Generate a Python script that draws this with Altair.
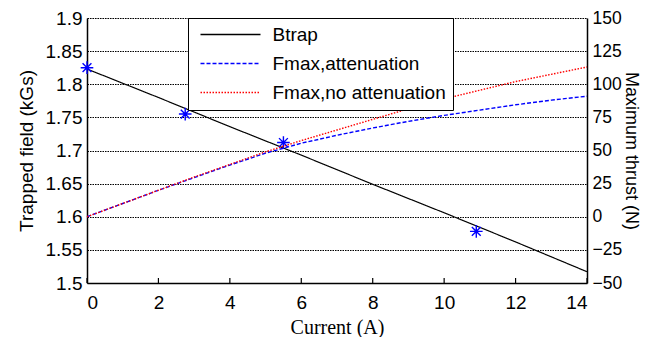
import altair as alt
import pandas as pd

# ---- data ----
current = [0, 1, 2, 3, 4, 5, 6, 7, 8, 9, 10, 11, 12, 13, 14]
fmax_att = [0, 10, 20, 29.5, 39, 48, 55.5, 61.5, 67, 72, 76.5, 80.5, 84.5, 88, 91]
fmax_noatt = [0, 10, 20, 30, 39.5, 49, 57.5, 65.5, 73.5, 81.5, 89, 95.5, 102, 107.5, 113]

btrap_x = [0, 2, 4, 6, 8, 10, 12, 14]
btrap_y = [1.823, 1.780, 1.736, 1.693, 1.649, 1.606, 1.562, 1.517]

meas_x = [0, 2.75, 5.5, 10.9]
meas_y = [1.825, 1.755, 1.712, 1.578]

series_names = ["Btrap", "Fmax,attenuation", "Fmax,no attenuation"]
series_colors = ["black", "blue", "red"]
series_dash = [[1, 0], [4, 2], [1.5, 1.5]]

x_ticks = [0, 2, 4, 6, 8, 10, 12, 14]
left_ticks = [1.5, 1.55, 1.6, 1.65, 1.7, 1.75, 1.8, 1.85, 1.9]
right_ticks = [-50, -25, 0, 25, 50, 75, 100, 125, 150]

# ---- tables ----
btrap_df = pd.DataFrame({"I": btrap_x, "B": btrap_y, "series": series_names[0]})
meas_df = pd.DataFrame({"I": meas_x, "B": meas_y})
fmax_df = pd.concat([
    pd.DataFrame({"I": current, "F": fmax_att, "series": series_names[1]}),
    pd.DataFrame({"I": current, "F": fmax_noatt, "series": series_names[2]}),
])
xt_df = pd.DataFrame({"I": x_ticks})

sans = "Liberation Sans"
serif = "Liberation Serif"
W, H = 500, 265

xscale = alt.Scale(domain=[0, 14], nice=False, zero=False)
xaxis = alt.Axis(values=x_ticks, title="Current (A)", titleFont=serif, titleFontSize=20,
                 titleFontWeight="normal", labelFont=sans, labelFontSize=19,
                 ticks=False, labelPadding=10, titlePadding=5, grid=False, labelOverlap=False,
                 domainColor="black", domainWidth=1.5, labelColor="black", titleColor="black")
X = alt.X("I:Q", scale=xscale, axis=xaxis)

legend = alt.Legend(title=None, orient="none", legendX=101, legendY=0,
                    symbolType="stroke", symbolSize=3600, symbolStrokeWidth=1.5,
                    clipHeight=19, rowPadding=9, padding=7, symbolOffset=4.5,
                    labelOffset=11, labelFont=sans, labelFontSize=19, labelColor="black",
                    fillColor="white", strokeColor="black", labelLimit=400)

color = alt.Color("series:N", scale=alt.Scale(domain=series_names, range=series_colors), legend=legend)
dash = alt.StrokeDash("series:N", scale=alt.Scale(domain=series_names, range=series_dash), legend=legend)

left_axis = alt.Axis(values=left_ticks, format="~g", title="Trapped field (kGs)",
                     titleFont=sans, titleFontSize=19, titleFontWeight="normal",
                     labelFont=sans, labelFontSize=19, ticks=False, labelPadding=5,
                     titlePadding=9, grid=True, gridColor="black", gridDash=[1.5, 1],
                     gridWidth=1, gridOpacity=1, domainColor="black", domainWidth=1.5,
                     labelOverlap=False, labelColor="black", titleColor="black",
                     orient="left")
left_scale = alt.Scale(domain=[1.5, 1.9], nice=False, zero=False)
Y_left = alt.Y("B:Q", scale=left_scale, axis=left_axis)

btrap = alt.Chart(btrap_df).mark_line(strokeWidth=1.2).encode(
    x=X, y=Y_left, color=color, strokeDash=dash)

stars = alt.Chart(meas_df).mark_point(
    shape="M-1,0L1,0M0,-1L0,1M-0.7,-0.7L0.7,0.7M-0.7,0.7L0.7,-0.7",
    filled=False, size=160, strokeWidth=1.4, opacity=1).encode(
    x=X, y=Y_left, color=alt.value("blue"))

xtick_marks = alt.Chart(xt_df).mark_rule(color="black", strokeWidth=1.2).encode(
    x=X, y=alt.value(H - 5), y2=alt.value(H))

left_layer = alt.layer(btrap, stars, xtick_marks)

fmax = alt.Chart(fmax_df).mark_line(strokeWidth=1.4).encode(
    x=X,
    y=alt.Y("F:Q", scale=alt.Scale(domain=[-50, 150], nice=False, zero=False),
            axis=alt.Axis(values=right_ticks, title="Maximum thrust (N)", orient="right",
                          titleFont=sans, titleFontSize=18, titleFontWeight="normal",
                          labelFont=sans, labelFontSize=17.5, ticks=False, labelPadding=5,
                          titlePadding=0, grid=False, domainColor="black", domainWidth=1.5,
                          labelOverlap=False, labelColor="black", titleColor="black")),
    color=color, strokeDash=dash)

chart = alt.layer(left_layer, fmax).resolve_scale(y="independent").properties(
    width=W, height=H,
    padding={"left": 79, "top": 10, "right": 54, "bottom": 54},
    autosize=alt.AutoSizeParams(type="none"),
).configure_view(stroke="black", strokeWidth=1.5).configure(background="white")

chart.save("out.html", embed_options={"renderer": "svg", "actions": False})
